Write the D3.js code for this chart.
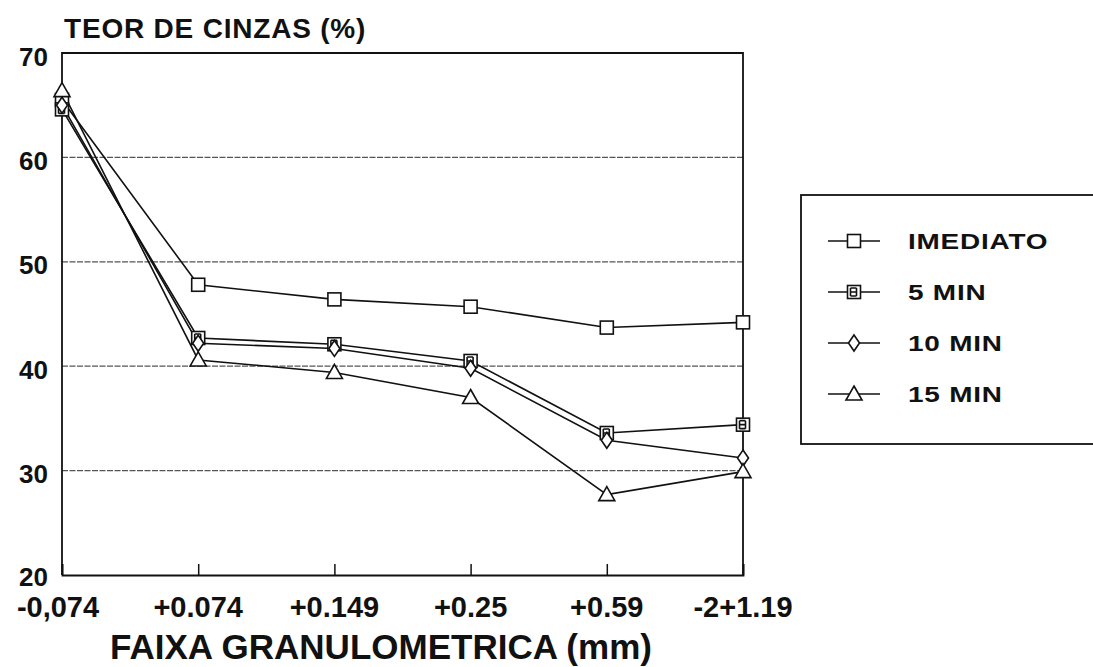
<!DOCTYPE html>
<html><head><meta charset="utf-8">
<script src="https://cdn.jsdelivr.net/npm/d3@7"></script>
<style>body{margin:0;background:#fff}svg{display:block}text{font-family:"Liberation Sans",Arial,sans-serif;font-weight:bold;fill:#111}</style>
</head><body><svg id="c" width="1093" height="667"></svg>
<script>
const categories = ["-0,074", "+0.074", "+0.149", "+0.25", "+0.59", "-2+1.19"];
const seriesNames = ["IMEDIATO", "5 MIN", "10 MIN", "15 MIN"];
const imediato = [65.5, 47.8, 46.4, 45.7, 43.7, 44.2];
const min5 = [64.6, 42.7, 42.1, 40.5, 33.6, 34.4];
const min10 = [65.0, 42.2, 41.7, 39.8, 32.9, 31.2];
const min15 = [66.4, 40.6, 39.4, 37.0, 27.7, 29.9];
const yTicks = [20, 30, 40, 50, 60, 70];
const gridValues = [30, 40, 50, 60];
const markerTypes = ["square", "square5", "diamond", "triangle"];

const series = [imediato, min5, min10, min15];
const svg = d3.select("#c");
const L = 62, R = 743, T = 53, B = 575;
const x = d3.scalePoint().domain(categories).range([L, R]);
const y = d3.scaleLinear().domain([20, 70]).range([B, T]);

// grid
svg.append("g").selectAll("line").data(gridValues).join("line")
  .attr("x1", L).attr("x2", R).attr("y1", d => y(d)).attr("y2", d => y(d))
  .attr("stroke", "#555").attr("stroke-width", 1.3).attr("stroke-dasharray", "6,1.5");

// frame
svg.append("path").attr("d", `M${L},${B}V${T}H${R}V${B}`).attr("fill", "none").attr("stroke", "#111").attr("stroke-width", 1.8);

// x axis
const xAxis = svg.append("g").attr("transform", `translate(0,${B})`)
  .call(d3.axisTop(x).tickSize(11).tickFormat(""));
xAxis.select(".domain").attr("stroke", "#111").attr("stroke-width", 1.8);
xAxis.selectAll(".tick line").attr("stroke", "#111").attr("stroke-width", 1.5);
svg.append("g").selectAll("text").data(categories).join("text")
  .attr("x", (d, i) => x(d) + (i === 0 ? -4 : 0)).attr("y", 617).attr("text-anchor", "middle")
  .attr("font-size", 29).text(d => d);

// y labels
svg.append("g").selectAll("text").data(yTicks).join("text")
  .attr("x", 48).attr("y", d => d === 20 ? y(d) + 11 : y(d) + 12.5).attr("text-anchor", "end")
  .attr("font-size", 26).text(d => d);

svg.append("text").attr("x", 64).attr("y", 38).attr("font-size", 28).attr("letter-spacing", 0.8).text("TEOR DE CINZAS (%)");
svg.append("text").attr("x", 381).attr("y", 659).attr("text-anchor", "middle").attr("font-size", 35).text("FAIXA GRANULOMETRICA (mm)");

function marker(g, type, cx, cy) {
  const s = 6.5;
  if (type === "square" || type === "square5") {
    g.append("rect").attr("x", cx - s).attr("y", cy - s).attr("width", 2*s).attr("height", 2*s)
      .attr("fill", "#fff").attr("stroke", "#111").attr("stroke-width", 1.6);
    if (type === "square5") {
      g.append("path").attr("d", `M${cx-3.5},${cy-4}V${cy+4}M${cx-3.5},${cy}H${cx+3}M${cx-3.5},${cy-4}H${cx+2.5}M${cx-3.5},${cy+4}H${cx+2.5}M${cx+2.5},${cy-4}V${cy+4}`)
        .attr("fill", "none").attr("stroke", "#111").attr("stroke-width", 1.6);
    }
  } else if (type === "diamond") {
    g.append("path").attr("d", `M${cx},${cy-8}L${cx+5.5},${cy}L${cx},${cy+8}L${cx-5.5},${cy}Z`)
      .attr("fill", "#fff").attr("stroke", "#111").attr("stroke-width", 1.6);
  } else {
    g.append("path").attr("d", `M${cx},${cy-8}L${cx+8},${cy+6}L${cx-8},${cy+6}Z`)
      .attr("fill", "#fff").attr("stroke", "#111").attr("stroke-width", 1.6);
  }
}

const line = d3.line().x((d, i) => x(categories[i])).y(d => y(d));
series.forEach((vals, si) => {
  svg.append("path").attr("d", line(vals)).attr("fill", "none").attr("stroke", "#111").attr("stroke-width", 1.6);
});
series.forEach((vals, si) => {
  const g = svg.append("g");
  vals.forEach((v, i) => marker(g, markerTypes[si], x(categories[i]), y(v)));
});

// legend
svg.append("rect").attr("x", 801).attr("y", 195).attr("width", 300).attr("height", 249)
  .attr("fill", "#fff").attr("stroke", "#111").attr("stroke-width", 1.8);
const ly = d3.scalePoint().domain(seriesNames).range([241, 394]);
seriesNames.forEach((n, i) => {
  const g = svg.append("g");
  g.append("line").attr("x1", 828).attr("x2", 880).attr("y1", ly(n)).attr("y2", ly(n)).attr("stroke", "#111").attr("stroke-width", 1.6);
  marker(g, markerTypes[i], 854, ly(n));
  g.append("text").attr("transform", `translate(908,${ly(n) + 8}) scale(1.3,1)`)
    .attr("font-size", 21.5).attr("letter-spacing", 0.6).text(n);
});
</script></body></html>
